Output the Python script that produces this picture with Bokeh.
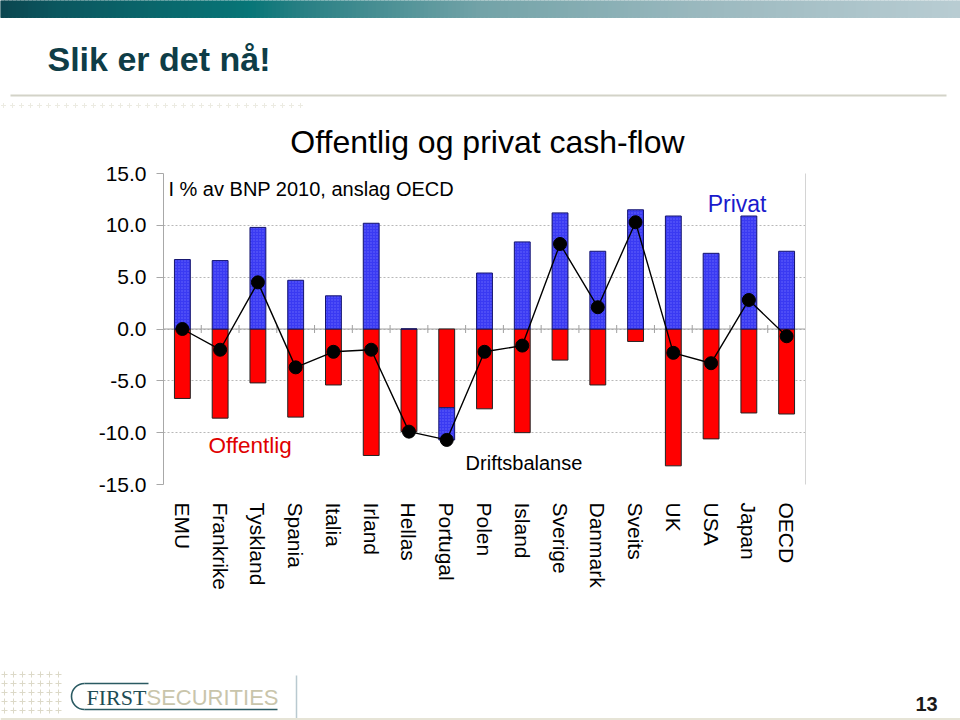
import numpy as np
from bokeh.plotting import figure
from bokeh.layouts import column
from bokeh.models import (ColumnDataSource, Range1d, LinearAxis, FixedTicker,
                          NumeralTickFormatter, Label, Span)
from bokeh.embed import file_html
from bokeh.resources import INLINE

# ---------------- data ----------------
land = ["EMU", "Frankrike", "Tyskland", "Spania", "Italia", "Irland", "Hellas", "Portugal",
        "Polen", "Island", "Sverige", "Danmark", "Sveits", "UK", "USA", "Japan", "OECD"]
offentlig = [-6.7, -8.6, -5.2, -8.5, -5.4, -12.2, -9.9, -7.6, -7.7, -10.0, -3.0, -5.4,
             -1.2, -13.2, -10.6, -8.1, -8.2]
privat = [6.7, 6.6, 9.8, 4.7, 3.2, 10.2, 0.0, -3.1, 5.4, 8.4, 11.2, 7.5, 11.5, 10.9,
          7.3, 10.9, 7.5]
driftsbalanse = [0.0, -2.0, 4.5, -3.7, -2.2, -2.0, -9.9, -10.7, -2.2, -1.6, 8.2, 2.1,
                 10.3, -2.3, -3.3, 2.8, -0.7]
y_ticks = [-15, -10, -5, 0, 5, 10, 15]

FONT = "Liberation Sans"
W = 960
HEAD_H = 160

# ---------------- header (page y 0..160) ----------------
head = figure(width=W, height=HEAD_H, x_range=Range1d(0, W), y_range=Range1d(HEAD_H, 0),
              output_backend="svg", toolbar_location=None, min_border=0,
              x_axis_location=None, y_axis_location=None)
head.grid.visible = False
head.outline_line_color = None
head.frame_align = False

stops_x = [0, 60, 250, 300, 480, 700, 960]
stops_rgb = [(11, 70, 80), (12, 88, 96), (8, 118, 120), (40, 128, 132),
             (115, 163, 168), (155, 185, 191), (185, 205, 211)]
xs = np.arange(0, W, 4)
cols = []
for x in xs:
    r = int(np.interp(x + 2, stops_x, [c[0] for c in stops_rgb]))
    g = int(np.interp(x + 2, stops_x, [c[1] for c in stops_rgb]))
    b = int(np.interp(x + 2, stops_x, [c[2] for c in stops_rgb]))
    cols.append("#%02x%02x%02x" % (r, g, b))
head.quad(left=xs, right=xs + 4, top=0, bottom=17, fill_color=cols, line_color=cols)
head.segment(x0=[10], y0=[95], x1=[946], y1=[95], line_color="#d3d3c8", line_width=2)
hx = np.arange(0, 34) * 9 + 3
head.scatter(x=hx, y=np.full(len(hx), 105), marker="cross", size=5,
             line_color="#ecebe2", line_width=1)
head.add_layout(Label(x=47, y=58, text="Slik er det nå!", text_font=FONT,
                      text_font_size="34px", text_font_style="bold",
                      text_color="#0e3d47", text_baseline="middle"))
head.add_layout(Label(x=487, y=141, text="Offentlig og privat cash-flow", text_font=FONT,
                      text_font_size="32px", text_color="black", text_align="center",
                      text_baseline="middle"))

# ---------------- chart (page y 160..620) ----------------
n = len(land)
xpos = [i + 0.5 for i in range(n)]
pb = [0.0 if v >= 0 else o for v, o in zip(privat, offentlig)]
pt = [v if v >= 0 else o + v for v, o in zip(privat, offentlig)]
src = ColumnDataSource(dict(x=xpos, land=land, offentlig=offentlig, pb=pb, pt=pt,
                            balanse=driftsbalanse))

p = figure(width=W, height=620 - HEAD_H, x_range=Range1d(0, n), y_range=Range1d(-15, 15),
           output_backend="svg", toolbar_location=None,
           min_border_left=163, min_border_right=155, min_border_top=173 - HEAD_H,
           min_border_bottom=136)
p.outline_line_color = None
p.frame_align = False

zero = Span(location=0, dimension="width", line_color="#a0a0a0", line_width=1, level="underlay")
p.add_layout(zero)
p.scatter(x=list(range(n + 1)), y=[0] * (n + 1), marker="dash", angle=np.pi / 2, size=8,
          line_color="#a0a0a0", line_width=1, level="underlay")

p.vbar(x="x", top=0, bottom="offentlig", width=0.42, source=src,
       fill_color="#ff0000", line_color="#222222", line_width=1)
p.vbar(x="x", top="pt", bottom="pb", width=0.42, source=src,
       fill_color="#3a3af2", line_color="#14146e", line_width=1,
       hatch_pattern=".", hatch_color="#7a7aff", hatch_scale=3, hatch_weight=1, hatch_alpha=0.7)
p.line(x="x", y="balanse", source=src, line_color="black", line_width=1.4)
p.scatter(x="x", y="balanse", source=src, size=13, fill_color="black", line_color="black")

# category axis (bottom)
xa = p.xaxis[0]
xa.ticker = FixedTicker(ticks=xpos)
xa.major_label_overrides = {x: name for x, name in zip(xpos, land)}
xa.axis_line_color = None
xa.major_tick_line_color = None
xa.minor_tick_line_color = None
xa.major_label_orientation = "vertical"
xa.major_label_text_font = FONT
xa.major_label_text_font_size = "21px"
xa.major_label_text_color = "black"
xa.major_label_standoff = 12

# y axis
ticker = FixedTicker(ticks=y_ticks)
ya = p.yaxis[0]
ya.ticker = ticker
ya.formatter = NumeralTickFormatter(format="0.0")
ya.axis_line_color = "#a8a8a8"
ya.major_tick_line_color = "#a8a8a8"
ya.major_tick_out = 7
ya.major_tick_in = 0
ya.minor_tick_line_color = None
ya.major_label_text_font = FONT
ya.major_label_text_font_size = "21px"
ya.major_label_text_color = "black"
ya.major_label_standoff = 10

p.xgrid.visible = False
p.ygrid.ticker = ticker
p.ygrid.grid_line_color = "#b8b8b8"
p.ygrid.grid_line_dash = "2 2"

# right frame line
right_axis = LinearAxis(ticker=FixedTicker(ticks=[]), axis_line_color="#d4d4d4",
                        major_tick_line_color=None, minor_tick_line_color=None)
p.add_layout(right_axis, "right")

p.add_layout(Label(x=0.13, y=13.55, text="I % av BNP 2010, anslag OECD", text_font=FONT,
                   text_font_size="20px", text_color="black", text_baseline="middle"))
p.add_layout(Label(x=14.41, y=12.1, text="Privat", text_font=FONT,
                   text_font_size="23px", text_color="#1a1acc", text_baseline="middle"))
p.add_layout(Label(x=1.19, y=-11.24, text="Offentlig", text_font=FONT,
                   text_font_size="22.5px", text_color="#e00000", text_baseline="middle"))
p.add_layout(Label(x=8.0, y=-12.88, text="Driftsbalanse", text_font=FONT,
                   text_font_size="20px", text_color="black", text_baseline="middle"))

# ---------------- footer (page y 620..720) ----------------
foot = figure(width=W, height=100, x_range=Range1d(0, W), y_range=Range1d(720, 620),
              output_backend="svg", toolbar_location=None, min_border=0,
              x_axis_location=None, y_axis_location=None)
foot.grid.visible = False
foot.outline_line_color = None
foot.frame_align = False
gx, gy = np.meshgrid(np.arange(0, 7) * 9 + 4, np.arange(0, 5) * 9 + 674)
foot.scatter(x=gx.ravel(), y=gy.ravel(), marker="cross", size=6,
             line_color="#dcd9c8", line_width=1)
foot.arc(x=84, y=696, radius=13, start_angle=np.pi / 2, end_angle=3 * np.pi / 2,
         line_color="#2a5a62", line_width=1.6)
foot.segment(x0=[84, 84], y0=[683, 709], x1=[148, 277], y1=[683, 709],
             line_color="#2a5a62", line_width=1.6)
foot.add_layout(Label(x=86, y=697, text="FIRST", text_font="Liberation Serif",
                      text_font_size="22px", text_color="#1e4d55", text_baseline="middle"))
foot.add_layout(Label(x=146, y=697, text="SECURITIES", text_font=FONT,
                      text_font_size="22px", text_color="#c9c5ab", text_baseline="middle"))
foot.segment(x0=[296], y0=[675], x1=[296], y1=[718], line_color="#b9c9d0", line_width=1.5)
foot.segment(x0=[0], y0=[718.5], x1=[W], y1=[718.5], line_color="#e6e4d6", line_width=2)
foot.add_layout(Label(x=926, y=703, text="13", text_font=FONT, text_font_size="20px",
                      text_font_style="bold", text_color="#1a1a1a", text_align="center",
                      text_baseline="middle"))

layout = column(head, p, foot, spacing=0)
open("out.html", "w").write(file_html(layout, INLINE))
